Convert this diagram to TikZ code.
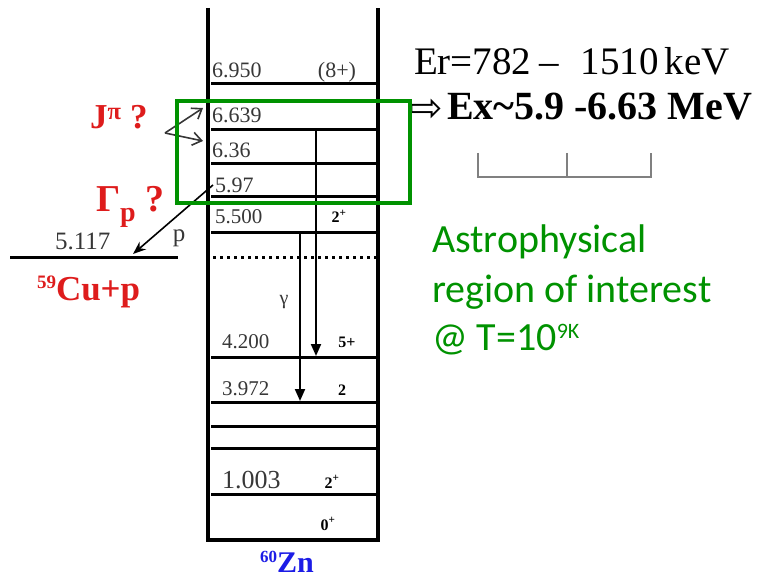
\documentclass[tikz,border=0pt]{standalone}
\usepackage{fontspec}
\setmainfont{Liberation Serif}
\newfontfamily\calibfont{Carlito}
\newfontfamily\arrowfont{DejaVu Sans}
\usetikzlibrary{arrows.meta}
\definecolor{hlred}{RGB}{222,28,28}
\definecolor{hlgreen}{RGB}{0,146,0}
\definecolor{znblue}{RGB}{28,28,230}
\definecolor{lblgray}{RGB}{55,55,55}
\newcommand{\fsz}[1]{\fontsize{#1}{#1}\selectfont}

\begin{document}
\begin{tikzpicture}[x=1pt, y=-1pt,
  every node/.style={inner sep=0pt, outer sep=0pt},
  wall/.style={line width=4pt, line join=miter},
  lvl/.style={line width=3pt},
  lbl/.style={anchor=base west, text=lblgray, font=\fsz{22}},
  spin/.style={anchor=base, font=\fsz{16}\bfseries},
  gam/.style={-{Triangle[length=12pt,width=10pt]}, line width=2pt},
  barb/.style={-{Straight Barb[length=9pt,width=13pt]}, line width=1.6pt, draw=lblgray},
  redtxt/.style={anchor=base west, text=hlred, font=\fsz{35}\bfseries},
  roi/.style={anchor=base west, text=hlgreen, font=\calibfont\fsz{40}},
  brk/.style={line width=1.5pt, draw=gray},
]
  \useasboundingbox (0,0) rectangle (758,580);

  % 60Zn level scheme
  \draw[wall] (208,8) -- (208,540) -- (378,540) -- (378,8);
  \foreach \y in {84,130,164,197,233,357,402,426,448,494}
    \draw[lvl] (211,\y) -- (376,\y);
  \draw[line width=3pt, dash pattern=on 3pt off 4pt] (213,258) -- (378,258);

  \node[lbl] (e6950) at (212,78) {6.950};
  \node[lbl] (e6639) at (212,123) {6.639};
  \node[lbl] (e636) at (212,158) {6.36};
  \node[lbl] (e597) at (215,193) {5.97};
  \node[lbl, font=\fsz{21}] (e5500) at (215,224) {5.500};
  \node[lbl, font=\fsz{21}] (e4200) at (222,348) {4.200};
  \node[lbl, font=\fsz{21}] (e3972) at (222,395) {3.972};
  \node[lbl, font=\fsz{26}] (e1003) at (222,488) {1.003};

  \node[anchor=base, text=lblgray, font=\fsz{22}] (j6950) at (337,78) {(8+)};
  \node[spin] (j5500) at (339,223) {2\textsuperscript{+}};
  \node[spin] (j4200) at (347,347) {5+};
  \node[spin] (j3972) at (342,395) {2};
  \node[spin] (j1003) at (332,488) {2\textsuperscript{+}};
  \node[spin] (j0) at (328,530) {0\textsuperscript{+}};

  % gamma transitions
  \coordinate (g1s) at (316,130);
  \coordinate (g1e) at (316,356);
  \coordinate (g2s) at (300,233);
  \coordinate (g2e) at (300,401);
  \draw[gam] (g1s) -- (g1e);
  \draw[gam] (g2s) -- (g2e);
  \node[text=lblgray, font=\fsz{20}] (gamma) at (284,302) {γ};

  \node[anchor=base west, text=znblue, font=\fsz{30}\bfseries] (zn) at (260,572) {\raisebox{10pt}{\fsz{17}60}Zn};

  % spin question
  \node[redtxt] (jpi) at (90,129) {J\textsuperscript{π} ?};
  \coordinate (jv) at (165,133);
  \coordinate (ja) at (203,108);
  \coordinate (jb) at (203,141);
  \draw[barb] (jv) -- (ja);
  \draw[barb] (jv) -- (jb);

  % proton channel
  \node[redtxt, font=\fsz{38}\bfseries] (gp) at (96,212) {Γ\raisebox{-10pt}{\fsz{28}p} ?};
  \coordinate (cuL) at (10,258);
  \coordinate (cuR) at (178,258);
  \draw[lvl] (cuL) -- (cuR);
  \node[lbl, font=\fsz{25}] (e5117) at (55,250) {5.117};
  \coordinate (ps) at (213,185);
  \coordinate (pe) at (133,254);
  \draw[-{Stealth[length=13pt,width=10pt]}, line width=1.6pt] (ps) -- (pe);
  \node[anchor=base, text=lblgray, font=\fsz{25}] (plbl) at (179,242) {p};
  \node[redtxt] (cu) at (37,300) {\raisebox{12pt}{\fsz{19}59}Cu+p};

  % energy window
  \node[anchor=base west, font=\fsz{39}] (er) at (414,75) {Er=782\hspace{8pt}–\hspace{22pt}1510\hspace{6pt}keV};
  \node[anchor=base west, font=\arrowfont\fsz{40}] (exarr) at (409,122) {⇨};
  \node[anchor=base west, font=\fsz{40}\bfseries] (ex) at (447,120) {Ex\textasciitilde5.9 -6.63 MeV};

  \coordinate (bl) at (478,153);
  \coordinate (bm) at (567,153);
  \coordinate (br) at (651,153);
  \coordinate (bbl) at (478,177);
  \coordinate (bbr) at (651,177);
  \draw[brk] (bl) -- (bbl) -- (bbr) -- (br);
  \draw[brk] (bm) -- (bm |- bbl);

  % region of interest
  \draw[line width=4pt, draw=hlgreen] (177,101) rectangle (410,203);
  \node[roi] (roi1) at (432,253) {Astrophysical};
  \node[roi] (roi2) at (432,302) {region of interest};
  \node[roi] (roi3) at (432,350) {@ T=10\raisebox{12pt}{\fsz{22}9K}};
\end{tikzpicture}
\end{document}
